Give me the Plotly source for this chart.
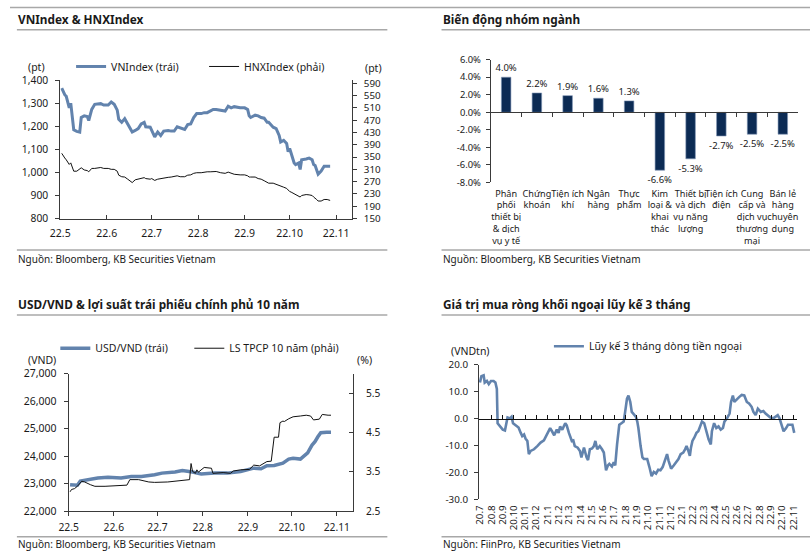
import plotly.graph_objects as go

# ---------------- DATA ----------------
# Panel 1: VNIndex & HNXIndex
p1_dates = ["2022-05-02","2022-05-03","2022-05-04","2022-05-05","2022-05-07","2022-05-08","2022-05-09","2022-05-10","2022-05-12","2022-05-14","2022-05-15","2022-05-17","2022-05-19","2022-05-20","2022-05-22","2022-05-24","2022-05-28","2022-05-30",
            "2022-06-02","2022-06-04","2022-06-06","2022-06-08","2022-06-09","2022-06-11","2022-06-13","2022-06-15","2022-06-18","2022-06-20","2022-06-22","2022-06-24","2022-06-26","2022-06-27","2022-06-30",
            "2022-07-01","2022-07-03","2022-07-05","2022-07-07","2022-07-09","2022-07-12","2022-07-14","2022-07-16","2022-07-18","2022-07-20","2022-07-23","2022-07-25","2022-07-27","2022-07-29","2022-07-31",
            "2022-08-03","2022-08-05","2022-08-07","2022-08-09","2022-08-11","2022-08-13","2022-08-16","2022-08-19","2022-08-21","2022-08-23","2022-08-25","2022-08-29",
            "2022-09-01","2022-09-03","2022-09-04","2022-09-05","2022-09-08","2022-09-10","2022-09-12","2022-09-14","2022-09-16","2022-09-17","2022-09-20","2022-09-22","2022-09-24","2022-09-25","2022-09-27","2022-09-29","2022-09-30",
            "2022-10-01","2022-10-02","2022-10-04","2022-10-05","2022-10-07","2022-10-08","2022-10-09","2022-10-12","2022-10-14","2022-10-16","2022-10-17","2022-10-18","2022-10-19","2022-10-20","2022-10-22","2022-10-24","2022-10-26","2022-10-28"]
vnindex = [1365,1350,1337,1330,1280,1300,1252,1185,1178,1175,1238,1245,1242,1225,1273,1295,1298,1292,
           1292,1305,1295,1270,1230,1217,1233,1207,1175,1182,1190,1210,1217,1198,1196,
           1182,1154,1175,1160,1179,1182,1179,1179,1198,1193,1186,1207,1210,1238,1255,
           1255,1259,1259,1266,1273,1273,1269,1266,1287,1280,1285,1280,
           1280,1273,1245,1238,1248,1245,1238,1235,1217,1217,1196,1190,1160,1132,1139,1125,1090,
           1104,1083,1041,1034,1041,1013,1055,1058,1062,1055,1034,1030,1013,992,1006,1027,1027,1027]
hnxindex = [362,352,347,341,326,331,315,304,304,310,315,308,306,302,313,313,316,313,
            313,310,310,304,291,286,285,278,267,276,278,281,283,280,278,
            280,274,278,280,283,284,285,287,289,286,286,291,292,297,299,
            299,301,302,302,303,303,299,297,301,297,294,292,
            292,289,285,285,285,280,278,273,267,265,265,262,257,255,252,248,241,
            238,236,230,227,222,220,225,228,227,225,220,217,212,207,207,212,212,209]

# Panel 2: sector performance
sectors = ["Phân<br>phối<br>thiết bị<br>& dịch<br>vụ y tế", "Chứng<br>khoán", "Tiện ích<br>khí", "Ngân<br>hàng",
           "Thực<br>phẩm", "Kim<br>loại &<br>khai<br>thác", "Thiết bị<br>và dịch<br>vụ năng<br>lượng",
           "Tiện ích<br>điện", "Cung<br>cấp và<br>dịch vụ<br>thương<br>mại", "Bán lẻ<br>hàng<br>chuyên<br>dụng"]
sector_chg = [4.0, 2.2, 1.9, 1.6, 1.3, -6.6, -5.3, -2.7, -2.5, -2.5]
p2_tickvals = [-8, -6, -4, -2, 0, 2, 4, 6]
p2_ticktext = ["-8.0%", "-6.0%", "-4.0%", "-2.0%", "0.0%", "2.0%", "4.0%", "6.0%"]

# Panel 3: USD/VND & 10Y government bond yield
usd_dates = ["2022-05-02","2022-05-07","2022-05-09","2022-05-15","2022-05-21","2022-05-28","2022-06-06","2022-06-13","2022-06-20","2022-06-29",
             "2022-07-04","2022-07-13","2022-07-18","2022-07-25","2022-07-31","2022-08-09","2022-08-18","2022-08-27","2022-09-01","2022-09-05",
             "2022-09-10","2022-09-14","2022-09-19","2022-09-25","2022-09-29","2022-10-02","2022-10-07","2022-10-10","2022-10-12","2022-10-15",
             "2022-10-17","2022-10-19","2022-10-21","2022-10-25","2022-10-28"]
usdvnd = [22960,22940,23090,23150,23200,23230,23200,23260,23260,23320,
          23380,23420,23470,23420,23350,23380,23380,23440,23500,23560,
          23540,23650,23660,23740,23890,23920,23890,24040,24120,24400,
          24520,24700,24850,24870,24870]
bond_dates = ["2022-05-02","2022-05-03","2022-05-05","2022-05-07","2022-05-10","2022-05-12","2022-05-16","2022-05-19","2022-05-26","2022-06-04",
              "2022-06-10","2022-06-12","2022-06-18","2022-06-25","2022-06-29","2022-07-08","2022-07-17","2022-07-23","2022-07-24","2022-07-25",
              "2022-07-27","2022-07-28","2022-07-29","2022-08-02","2022-08-07","2022-08-08","2022-08-15","2022-08-20","2022-08-22","2022-08-27",
              "2022-09-02","2022-09-05","2022-09-09","2022-09-14","2022-09-17","2022-09-18","2022-09-19","2022-09-22","2022-09-23","2022-09-25",
              "2022-09-26","2022-09-29","2022-10-02","2022-10-07","2022-10-11","2022-10-14","2022-10-16","2022-10-20","2022-10-22","2022-10-26","2022-10-28"]
bond_yield = [2.99,3.05,3.07,3.13,3.26,3.24,3.17,3.13,3.13,3.15,
              3.16,3.30,3.30,3.24,3.23,3.24,3.27,3.30,3.71,3.51,
              3.46,3.55,3.49,3.61,3.59,3.46,3.48,3.46,3.52,3.55,
              3.56,3.67,3.65,3.76,3.77,4.09,4.38,4.38,4.75,4.79,
              4.78,4.85,4.90,4.92,4.94,4.92,4.82,4.84,4.96,4.94,4.94]

# Panel 4: foreign net buying, 3-month cumulative (VND tn)
flow_dates = ["2020-07-01","2020-07-05","2020-07-11","2020-07-14","2020-07-20","2020-07-25","2020-07-31","2020-08-07","2020-08-12","2020-08-16",
              "2020-08-18","2020-08-23","2020-08-27","2020-09-01","2020-09-07","2020-09-10","2020-09-14","2020-09-20","2020-09-25","2020-09-29",
              "2020-10-07","2020-10-14","2020-10-20","2020-10-24","2020-10-29","2020-11-02","2020-11-07","2020-11-11","2020-11-16","2020-11-25",
              "2020-12-04","2020-12-13","2020-12-22","2020-12-28","2021-01-04","2021-01-08","2021-01-13","2021-01-19","2021-01-26","2021-01-31",
              "2021-02-04","2021-02-10","2021-02-18","2021-02-22","2021-02-28","2021-03-08","2021-03-12","2021-03-16","2021-03-24","2021-03-30",
              "2021-04-03","2021-04-10","2021-04-17","2021-04-21","2021-04-26","2021-05-02","2021-05-07","2021-05-11","2021-05-16","2021-05-23",
              "2021-05-29","2021-06-03","2021-06-09","2021-06-14","2021-06-18","2021-06-25","2021-06-30","2021-07-04","2021-07-09","2021-07-15",
              "2021-07-21","2021-07-27","2021-07-31","2021-08-05","2021-08-09","2021-08-14","2021-08-18","2021-08-24","2021-08-29","2021-09-02",
              "2021-09-05","2021-09-11","2021-09-16","2021-09-20","2021-09-29","2021-10-05","2021-10-11","2021-10-17","2021-10-23","2021-10-29",
              "2021-11-04","2021-11-10","2021-11-17","2021-11-22","2021-11-26","2021-12-03","2021-12-10","2021-12-16","2021-12-23","2021-12-29",
              "2022-01-05","2022-01-10","2022-01-14","2022-01-19","2022-01-23","2022-01-26","2022-01-30","2022-02-04","2022-02-10","2022-02-15",
              "2022-02-19","2022-02-25","2022-03-03","2022-03-09","2022-03-15","2022-03-21","2022-03-24","2022-03-30","2022-04-05","2022-04-11",
              "2022-04-17","2022-04-23","2022-04-27","2022-05-04","2022-05-11","2022-05-15","2022-05-20","2022-05-24","2022-05-31","2022-06-06",
              "2022-06-13","2022-06-20","2022-06-27","2022-07-03","2022-07-10","2022-07-15","2022-07-21","2022-07-27","2022-08-04","2022-08-11",
              "2022-08-17","2022-08-23","2022-08-30","2022-09-07","2022-09-13","2022-09-19","2022-09-24","2022-09-30","2022-10-05","2022-10-11",
              "2022-10-17","2022-10-23","2022-10-29","2022-11-03"]
flow_3m = [13.4,15.8,16.1,13.4,14.0,12.8,14.0,14.0,13.4,11.0,
           -1.7,-2.5,-2.9,-4.1,-4.4,-1.7,0.4,0.1,0.7,-1.7,
           -2.5,-3.3,-5.3,-6.5,-5.9,-7.4,-8.3,-13.2,-12.0,-11.4,
           -10.2,-8.9,-8.1,-6.5,-4.7,-3.5,-4.7,-6.2,-4.1,-5.3,
           -2.9,-4.1,-1.7,-2.5,-5.3,-8.3,-8.1,-10.2,-10.8,-12.0,
           -14.4,-10.8,-14.4,-15.4,-11.4,-11.1,-10.2,-8.3,-11.4,-10.2,
           -11.4,-12.6,-19.2,-17.4,-16.8,-17.8,-16.2,-17.4,-9.6,-2.3,
           -1.7,-1.1,2.5,7.4,8.6,6.2,2.5,1.3,0.7,-1.1,
           -3.5,-10.2,-14.4,-15.0,-15.0,-18.0,-21.4,-19.8,-20.4,-19.0,
           -19.2,-18.0,-15.6,-13.2,-15.6,-18.6,-17.4,-16.2,-15.0,-13.2,
           -12.6,-11.4,-10.2,-12.0,-13.8,-10.8,-8.3,-7.1,-5.3,-4.7,
           -2.9,-1.1,-1.7,-4.7,-7.7,-9.6,-4.7,-1.7,-3.5,-2.9,
           -4.1,-3.5,-1.1,0.1,1.9,6.2,8.6,6.2,7.4,8.0,
           8.8,8.6,6.2,5.6,4.4,2.5,1.3,3.7,2.5,2.8,
           1.9,1.3,0.4,0.1,0.7,1.3,0.1,-2.9,-4.7,-3.7,
           -2.3,-2.3,-2.3,-5.3]
p4_tickvals = [-30, -20, -10, 0, 10, 20]
p4_ticktext = ["-30.0", "-20.0", "-10.0", "0.0", "10.0", "20.0"]

# ---------------- STYLE ----------------
W, H = 812, 559
FONT = "Noto Sans"
BLUE = "#6283ad"
NAVY = "#0c2b54"
AX = "#3a3a3a"
RULE = "#a8a8a8"
TXT = "#1a1a1a"

def fx(p):
    return p / W

def fy(p):
    return 1 - p / H

def tf(size):
    return dict(family=FONT, size=size, color=TXT)

fig = go.Figure()

# Panel 1
fig.add_trace(go.Scatter(x=p1_dates, y=vnindex, name="VNIndex (trái)", mode="lines",
                         line=dict(color=BLUE, width=3), xaxis="x", yaxis="y", legend="legend"))
fig.add_trace(go.Scatter(x=p1_dates, y=hnxindex, name="HNXIndex (phải)", mode="lines",
                         line=dict(color="#111111", width=1), xaxis="x", yaxis="y2", legend="legend4"))

# Panel 2
fig.add_trace(go.Bar(x=sectors, y=sector_chg, marker=dict(color=NAVY, line=dict(color="#7f95b5", width=0.6)),
                     text=[f"{v:.1f}%" for v in sector_chg], textposition="outside", constraintext="none",
                     textfont=tf(9.5), cliponaxis=False,
                     showlegend=False, xaxis="x2", yaxis="y3"))
fig.add_trace(go.Scatter(x=sectors, y=sector_chg, mode="markers", marker=dict(opacity=0, size=1),
                         hoverinfo="skip", showlegend=False, xaxis="x3", yaxis="y3"))

# Panel 3
fig.add_trace(go.Scatter(x=usd_dates, y=usdvnd, name="USD/VND (trái)", mode="lines",
                         line=dict(color=BLUE, width=3.5), xaxis="x4", yaxis="y4", legend="legend2"))
fig.add_trace(go.Scatter(x=bond_dates, y=bond_yield, name="LS TPCP 10 năm (phải)", mode="lines",
                         line=dict(color="#111111", width=1), xaxis="x4", yaxis="y5", legend="legend5"))

# Panel 4
fig.add_trace(go.Scatter(x=flow_dates, y=flow_3m, name="Lũy kế 3 tháng dòng tiền ngoại", mode="lines",
                         line=dict(color=BLUE, width=2.6), xaxis="x5", yaxis="y6", legend="legend3"))
fig.add_trace(go.Scatter(x=flow_dates, y=flow_3m, mode="markers", marker=dict(opacity=0, size=1),
                         hoverinfo="skip", showlegend=False, xaxis="x6", yaxis="y6"))

base = dict(showgrid=False, zeroline=False, linecolor=AX, tickcolor=AX)

def legend_at(x, y):
    return dict(orientation="h", x=fx(x), y=fy(y), xanchor="left", yanchor="middle",
                font=tf(10.5), bgcolor="rgba(0,0,0,0)", borderwidth=0)

fig.update_layout(
    width=W, height=H, margin=dict(l=0, r=0, t=0, b=0),
    paper_bgcolor="white", plot_bgcolor="rgba(0,0,0,0)",
    font=dict(family=FONT, color=TXT),
    bargap=0.69,
    # panel 1
    xaxis=dict(domain=[fx(51), fx(347)], anchor="y", type="date",
               range=["2022-05-01", "2022-11-11 12:00"], dtick="M1", tick0="2022-05-01",
               tickformat="%y.%-m", ticks="inside", ticklen=4, showline=True,
               ticklabelstandoff=5, tickfont=tf(10.5), **base),
    yaxis=dict(domain=[fy(217), fy(75)], anchor="x", range=[800, 1400], dtick=100,
               tickformat=",d", ticks="outside", ticklen=4, showline=True,
               ticklabelstandoff=5, tickfont=tf(10.3), **base),
    yaxis2=dict(overlaying="y", anchor="x", side="right", range=[150, 600], tick0=150, dtick=40,
                ticks="outside", ticklen=4, showline=True, ticklabelstandoff=5,
                tickfont=tf(9.8), **base),
    # panel 2
    xaxis2=dict(domain=[fx(488), fx(800)], anchor="y3", type="category", range=[-0.5, 9.5],
                ticks="", showline=False, tickangle=0, showgrid=False, zeroline=False,
                tickfont=tf(9.1), ticklabelstandoff=4),
    xaxis3=dict(overlaying="x2", anchor="free", position=fy(108), type="category", range=[-0.5, 9.5],
                ticks="outside", ticklen=4, tickson="boundaries", showline=True,
                showticklabels=False, **base),
    yaxis3=dict(domain=[fy(180), fy(54)], anchor="x2", range=[-8, 6],
                tickvals=p2_tickvals, ticktext=p2_ticktext, ticks="outside", ticklen=4,
                showline=True, tickfont=tf(9.4), ticklabelstandoff=3, **base),
    # panel 3
    xaxis4=dict(domain=[fx(59.5), fx(348)], anchor="y4", type="date",
                range=["2022-05-01", "2022-11-12"], dtick="M1", tick0="2022-05-01",
                tickformat="%y.%-m", ticks="outside", ticklen=4, showline=True,
                ticklabelstandoff=3, tickfont=tf(10.3), **base),
    yaxis4=dict(domain=[fy(517), fy(376)], anchor="x4", range=[22000, 27000], dtick=1000,
                tickformat=",d", ticks="outside", ticklen=4, showline=True,
                ticklabelstandoff=5, tickfont=tf(10.5), **base),
    yaxis5=dict(overlaying="y4", anchor="x4", side="right", range=[2.5, 6.0], tick0=2.5, dtick=1,
                tickformat=".1f", ticks="inside", ticklen=4, showline=True,
                ticklabelstandoff=10, tickfont=tf(10.2), **base),
    # panel 4
    xaxis5=dict(domain=[fx(476), fx(799)], anchor="y6", type="date",
                range=["2020-06-28 08:00", "2022-11-11"], dtick="M1", tick0="2020-07-01",
                tickformat="%y.%-m", tickangle=-90, ticks="", showline=False, showgrid=False,
                zeroline=False, tickfont=tf(9.8), ticklabelstandoff=3),
    xaxis6=dict(overlaying="x5", anchor="free", position=fy(422.2), type="date",
                range=["2020-06-28 08:00", "2022-11-11"], dtick="M1", tick0="2020-07-01",
                ticks="inside", ticklen=4, showline=True, showticklabels=False, showgrid=False,
                zeroline=False, linecolor="#111", tickcolor="#111"),
    yaxis6=dict(domain=[fy(505), fy(367)], anchor="x5", range=[-30, 20],
                tickvals=p4_tickvals, ticktext=p4_ticktext, ticks="outside", ticklen=4,
                showline=True, tickfont=tf(9.8), ticklabelstandoff=4, **base),
    legend=legend_at(62, 61),
    legend4=legend_at(197, 61),
    legend2=legend_at(46, 350),
    legend5=legend_at(182, 350),
    legend3=legend_at(547, 348),
)

# titles, units, sources
def ann(text, x, y, size=10.5, bold=False, xanchor="left"):
    fig.add_annotation(text=f"<b>{text}</b>" if bold else text, x=fx(x), y=fy(y),
                       xref="paper", yref="paper", xanchor=xanchor, yanchor="middle",
                       showarrow=False, font=tf(size))

ann("VNIndex &amp; HNXIndex", 6, 12, size=11.8, bold=True)
ann("Biến động nhóm ngành", 437, 12, size=11.8, bold=True)
ann("USD/VND &amp; lợi suất trái phiếu chính phủ 10 năm", 6, 305, size=11.8, bold=True)
ann("Giá trị mua ròng khối ngoại lũy kế 3 tháng", 437, 305, size=11.8, bold=True)

ann("(pt)", 27, 62, xanchor="center")
ann("(pt)", 369, 63, xanchor="center")
ann("(VND)", 32, 362, xanchor="center")
ann("(%)", 360, 362, xanchor="center")
ann("(VNDtn)", 467, 353, xanchor="center")

ann("Nguồn: Bloomberg, KB Securities Vietnam", 6, 258, size=10)
ann("Nguồn: Bloomberg, KB Securities Vietnam", 437, 258, size=10)
ann("Nguồn: Bloomberg, KB Securities Vietnam", 6, 551, size=10)
ann("Nguồn: FiinPro, KB Securities Vietnam", 437, 551, size=10)

# rule lines
def rule(x0, x1, y):
    fig.add_shape(type="line", xref="paper", yref="paper", x0=fx(x0), x1=fx(x1), y0=fy(y), y1=fy(y),
                  line=dict(color=RULE, width=1.5))

rule(0, 812, 0.5)
for y in (23.3, 249.3):
    rule(7, 383, y)
    rule(438, 812, y)
for y in (316, 543.3):
    rule(7, 383, y)
    rule(438, 812, y)

fig.write_html("out.html")
